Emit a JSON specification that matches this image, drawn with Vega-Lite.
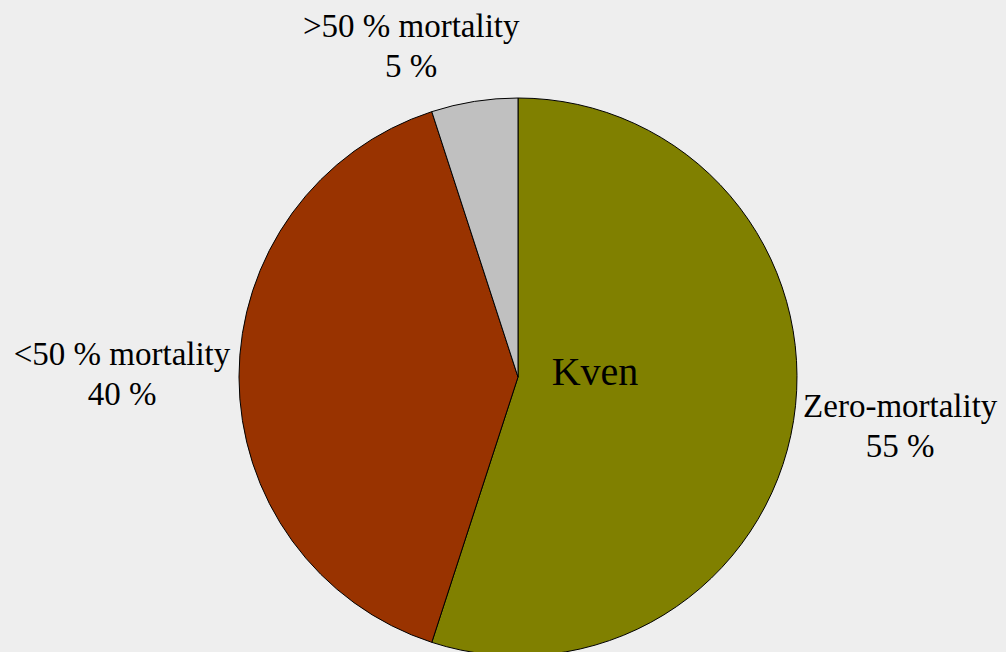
{
  "$schema": "https://vega.github.io/schema/vega-lite/v6.json",
  "width": 558,
  "height": 558,
  "autosize": "none",
  "padding": {"left": 239, "top": 98, "right": 209, "bottom": 0},
  "background": "#eeeeee",
  "config": {"view": {"stroke": null}, "text": {"font": "Liberation Serif"}},
  "data": {
    "values": [
      {"category": "Zero-mortality", "label": "Zero-mortality\n55 %", "percent": 55, "order": 1},
      {"category": "<50 % mortality", "label": "<50 % mortality\n40 %", "percent": 40, "order": 2},
      {"category": ">50 % mortality", "label": ">50 % mortality\n5 %", "percent": 5, "order": 3}
    ]
  },
  "layer": [
    {
      "mark": {"type": "arc", "stroke": "#000000", "strokeWidth": 1},
      "encoding": {
        "theta": {"field": "percent", "type": "quantitative", "stack": true},
        "order": {"field": "order", "type": "quantitative"},
        "color": {
          "field": "category",
          "type": "nominal",
          "scale": {"domain": ["Zero-mortality", "<50 % mortality", ">50 % mortality"], "range": ["#808000", "#993300", "#c0c0c0"]},
          "legend": null
        }
      }
    },
    {
      "mark": {"type": "text", "font": "Liberation Serif", "radius": 387, "dy": -21, "fontSize": 33, "letterSpacing": -0.5, "lineBreak": "\n", "lineHeight": 40, "baseline": "alphabetic", "align": "center", "color": "#000000"},
      "encoding": {
        "theta": {"field": "percent", "type": "quantitative", "stack": true},
        "order": {"field": "order", "type": "quantitative"},
        "text": {"condition": {"test": "datum.category === 'Zero-mortality'", "field": "label"}, "value": ""}
      }
    },
    {
      "mark": {"type": "text", "font": "Liberation Serif", "radius": 396, "dy": -12, "fontSize": 33, "letterSpacing": -0.5, "lineBreak": "\n", "lineHeight": 40, "baseline": "alphabetic", "align": "center", "color": "#000000"},
      "encoding": {
        "theta": {"field": "percent", "type": "quantitative", "stack": true},
        "order": {"field": "order", "type": "quantitative"},
        "text": {"condition": {"test": "datum.category === '<50 % mortality'", "field": "label"}, "value": ""}
      }
    },
    {
      "mark": {"type": "text", "font": "Liberation Serif", "radius": 344, "dx": -53, "fontSize": 33, "letterSpacing": -0.5, "lineBreak": "\n", "lineHeight": 40, "baseline": "alphabetic", "align": "center", "color": "#000000"},
      "encoding": {
        "theta": {"field": "percent", "type": "quantitative", "stack": true},
        "order": {"field": "order", "type": "quantitative"},
        "text": {"condition": {"test": "datum.category === '>50 % mortality'", "field": "label"}, "value": ""}
      }
    },
    {
      "data": {"values": [{"name": "Kven"}]},
      "mark": {"type": "text", "font": "Liberation Serif", "dx": 77, "dy": 8, "fontSize": 40, "letterSpacing": -1, "baseline": "alphabetic", "align": "center", "color": "#000000"},
      "encoding": {
        "text": {"field": "name", "type": "nominal"}
      }
    }
  ]
}
